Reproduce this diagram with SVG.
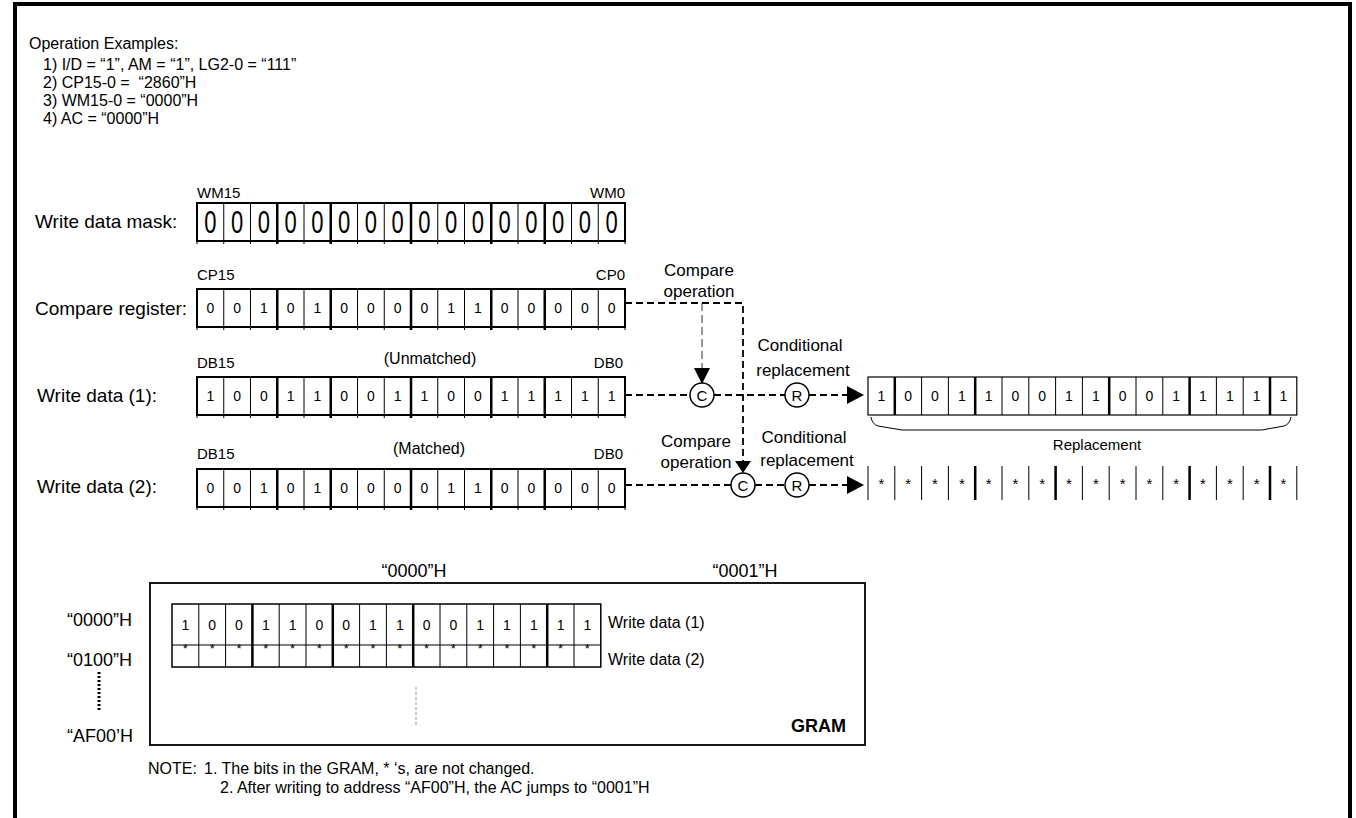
<svg xmlns="http://www.w3.org/2000/svg" width="1356" height="818" viewBox="0 0 1356 818">
<style>
text{font-family:'Liberation Sans',Arial,sans-serif;fill:#000}
.h{font-size:16px}
.lb{font-size:19px}
.sm{font-size:15px}
.dg{font-size:14px;text-anchor:middle}
.op{font-size:17px;text-anchor:middle}
.ad{font-size:18px}
.nt{font-size:16px}
.dash{fill:none;stroke:#000;stroke-width:1.8;stroke-dasharray:7 4}
.thn{stroke:#000;stroke-width:1;fill:none}
.thk{stroke:#000;stroke-width:2.5;fill:none}
.box{fill:#fff;stroke:#000;stroke-width:2}
.circ{fill:#fff;stroke:#000;stroke-width:1.5}
</style>
<defs>
<g id="f16">
<rect class="box" x="0" y="0" width="428" height="38"/>
<path class="thn" d="M26.75,0V41M53.5,0V41M107,0V41M160.5,0V41M187.25,0V41M240.75,0V41M267.5,0V41M321,0V41M374.5,0V41M401.25,0V41M0,38V41M428,38V41"/>
<path class="thk" d="M80.25,0V41M133.75,0V41M214,0V41M294.25,0V41M347.75,0V41"/>
</g>
<g id="fr16">
<rect x="0" y="0" width="428.8" height="38" fill="#fff" stroke="#000" stroke-width="1.2"/>
<path class="thn" d="M53.6,0V38M80.4,0V38M134,0V38M160.8,0V38M187.6,0V38M214.4,0V38M268,0V38M294.8,0V38M348.4,0V38M375.2,0V38"/>
<path class="thk" d="M26.8,0V38M107.2,0V38M241.2,0V38M321.6,0V38M402,0V38"/>
</g>
</defs>
<rect width="1356" height="818" fill="#fff"/>
<path d="M15,818V4H1350V818" fill="none" stroke="#000" stroke-width="4"/>

<g id="header">
<text class="h" x="29" y="49">Operation Examples:</text>
<text class="h" x="43" y="70">1) I/D = “1”, AM = “1”, LG2-0 = “111”</text>
<text class="h" x="43" y="88" style="white-space:pre">2) CP15-0 =  “2860”H</text>
<text class="h" x="43" y="106">3) WM15-0 = “0000”H</text>
<text class="h" x="43" y="124">4) AC = “0000”H</text>
</g>

<g id="write-data-mask">
<text class="lb" x="35" y="228">Write data mask:</text>
<text class="sm" x="197" y="198">WM15</text>
<text class="sm" x="625" y="198" text-anchor="end">WM0</text>
<use href="#f16" x="197" y="203"/>
<text transform="translate(0,233) scale(1,1.45)" style="font-size:22px;text-anchor:middle" x="210.4 237.1 263.9 290.6 317.4 344.1 370.9 397.6 424.4 451.1 477.9 504.6 531.4 558.1 584.9 611.6" y="0">0000000000000000</text>
</g>

<g id="compare-register">
<text class="lb" x="35" y="315">Compare register:</text>
<text class="sm" x="197" y="280">CP15</text>
<text class="sm" x="625" y="280" text-anchor="end">CP0</text>
<use href="#f16" x="197" y="289"/>
<text class="dg" x="210.4 237.1 263.9 290.6 317.4 344.1 370.9 397.6 424.4 451.1 477.9 504.6 531.4 558.1 584.9 611.6" y="313">0010100001100000</text>
</g>

<g id="write-data-1">
<text class="lb" x="37" y="402">Write data (1):</text>
<text class="sm" x="197" y="368">DB15</text>
<text class="sm" x="430" y="364" text-anchor="middle" style="font-size:16px">(Unmatched)</text>
<text class="sm" x="623" y="368" text-anchor="end">DB0</text>
<use href="#f16" x="197" y="377"/>
<text class="dg" x="210.4 237.1 263.9 290.6 317.4 344.1 370.9 397.6 424.4 451.1 477.9 504.6 531.4 558.1 584.9 611.6" y="401">1001100110011111</text>
</g>

<g id="write-data-2">
<text class="lb" x="37" y="493">Write data (2):</text>
<text class="sm" x="197" y="459">DB15</text>
<text class="sm" x="429" y="454" text-anchor="middle" style="font-size:16px">(Matched)</text>
<text class="sm" x="623" y="459" text-anchor="end">DB0</text>
<use href="#f16" x="197" y="469"/>
<text class="dg" x="210.4 237.1 263.9 290.6 317.4 344.1 370.9 397.6 424.4 451.1 477.9 504.6 531.4 558.1 584.9 611.6" y="493">0010100001100000</text>
</g>

<g id="result-1">
<use href="#fr16" x="868" y="377"/>
<text class="dg" x="881.4 908.2 935 961.8 988.6 1015.4 1042.2 1069 1095.8 1122.6 1149.4 1176.2 1203 1229.8 1256.6 1283.4" y="401">1001100110011111</text>
<path class="thn" d="M871,417Q872,424 878,426L902,430H1262L1284,426Q1290,424 1291,417" stroke-width="1.3"/>
<text class="sm" x="1097" y="450" text-anchor="middle">Replacement</text>
</g>

<g id="result-2">
<path class="thn" d="M868,466V500M894.8,466V500M921.6,466V500M948.4,466V500M1002,466V500M1028.8,466V500M1082.4,466V500M1109.2,466V500M1136,466V500M1162.8,466V500M1216.4,466V500M1243.2,466V500M1296.8,466V500"/>
<path class="thk" d="M975.2,466V500M1055.6,466V500M1189.6,466V500M1270,466V500"/>
<text class="dg" style="font-size:15px" x="881.4 908.2 935 961.8 988.6 1015.4 1042.2 1069 1095.8 1122.6 1149.4 1176.2 1203 1229.8 1256.6 1283.4" y="489">****************</text>
</g>

<g id="connectors">
<path class="dash" d="M625,303H743V461"/>
<path d="M702,303V368" fill="none" stroke="#333" stroke-width="1" stroke-dasharray="8 4"/>
<polygon points="694,368 710,368 702,384"/>
<polygon points="735,461 751,461 743,473"/>
<path class="dash" d="M625,395H690M714,395H785M809,395H847"/>
<polygon points="847,386 864,395 847,404"/>
<path class="dash" d="M625,485H731M755,485H785M809,485H847"/>
<polygon points="847,476 864,485 847,494"/>
</g>

<g id="op-c1">
<circle class="circ" cx="702" cy="395" r="12"/>
<text x="702" y="401" style="font-size:15px;text-anchor:middle">C</text>
</g>
<g id="op-r1">
<circle class="circ" cx="797" cy="395" r="12"/>
<text x="797" y="401" style="font-size:15px;text-anchor:middle">R</text>
</g>
<g id="op-c2">
<circle class="circ" cx="743" cy="485" r="12"/>
<text x="743" y="491" style="font-size:15px;text-anchor:middle">C</text>
</g>
<g id="op-r2">
<circle class="circ" cx="797" cy="485" r="12"/>
<text x="797" y="491" style="font-size:15px;text-anchor:middle">R</text>
</g>

<g id="labels-ops">
<text class="op" x="699" y="276">Compare</text>
<text class="op" x="699" y="297">operation</text>
<text class="op" x="800" y="351">Conditional</text>
<text class="op" x="803" y="376">replacement</text>
<text class="op" x="696" y="447">Compare</text>
<text class="op" x="696" y="468">operation</text>
<text class="op" x="804" y="443">Conditional</text>
<text class="op" x="807" y="466">replacement</text>
</g>

<g id="gram">
<rect x="150" y="583" width="715" height="162" fill="#fff" stroke="#000" stroke-width="1.8"/>
<text class="ad" x="414" y="577" text-anchor="middle">“0000”H</text>
<text class="ad" x="745" y="577" text-anchor="middle">“0001”H</text>
<text class="ad" x="67" y="626">“0000”H</text>
<text class="ad" x="67" y="666">“0100”H</text>
<text class="ad" x="67" y="742">“AF00’H</text>
<path d="M99,672V712" stroke="#000" stroke-width="3" stroke-dasharray="2 2"/>
<path d="M416,687V725" stroke="#999" stroke-width="1" stroke-dasharray="3 2"/>
<rect x="172" y="604" width="428.8" height="63" fill="none" stroke="#000" stroke-width="1.5"/>
<path class="thn" d="M172,645H600.8" stroke-width="1.5"/>
<path class="thn" d="M198.8,604V667M225.6,604V667M279.2,604V667M306,604V667M359.6,604V667M386.4,604V667M440,604V667M466.8,604V667M493.6,604V667M520.4,604V667M574,604V667"/>
<path class="thk" d="M252.4,604V667M332.8,604V667M413.2,604V667M547.2,604V667"/>
<text class="dg" x="185.4 212.2 239 265.8 292.6 319.4 346.2 373 399.8 426.6 453.4 480.2 507 533.8 560.6 587.4" y="630">1001100110011111</text>
<text class="dg" style="font-size:13px" x="185.4 212.2 239 265.8 292.6 319.4 346.2 373 399.8 426.6 453.4 480.2 507 533.8 560.6 587.4" y="653">****************</text>
<text style="font-size:16px" x="608" y="628">Write data (1)</text>
<text style="font-size:16px" x="608" y="665">Write data (2)</text>
<text x="846" y="732" text-anchor="end" style="font-size:18px;font-weight:bold">GRAM</text>
</g>

<g id="notes">
<text class="nt" x="148" y="774">NOTE:</text>
<text class="nt" x="204" y="774">1. The bits in the GRAM, * ‘s, are not changed.</text>
<text class="nt" x="220" y="793">2. After writing to address “AF00”H, the AC jumps to “0001”H</text>
</g>
</svg>
